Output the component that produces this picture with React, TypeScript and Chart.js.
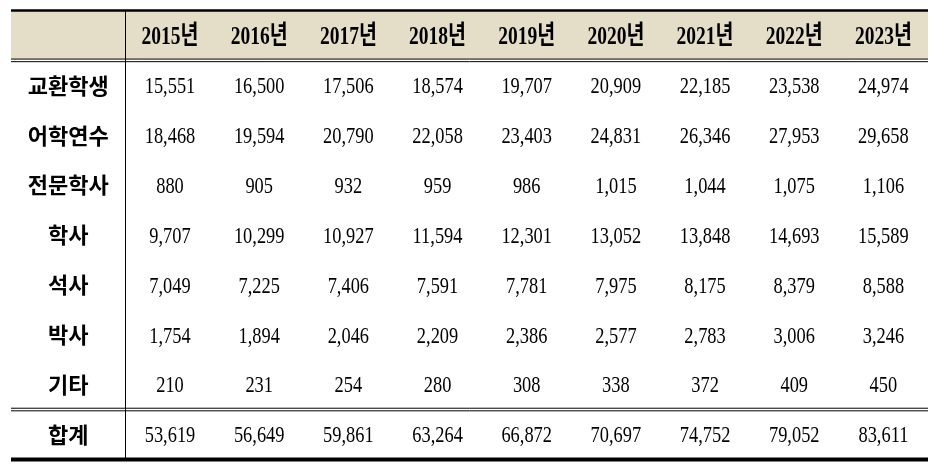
import React, { useEffect, useRef } from "react";
import { Chart, registerables } from "chart.js";

Chart.register(...registerables);

const rowLabels = ["교환학생", "어학연수", "전문학사", "학사", "석사", "박사", "기타", "합계"];
const years = ["2015년", "2016년", "2017년", "2018년", "2019년", "2020년", "2021년", "2022년", "2023년"];

const exchange = [15551, 16500, 17506, 18574, 19707, 20909, 22185, 23538, 24974];
const language = [18468, 19594, 20790, 22058, 23403, 24831, 26346, 27953, 29658];
const associate = [880, 905, 932, 959, 986, 1015, 1044, 1075, 1106];
const bachelor = [9707, 10299, 10927, 11594, 12301, 13052, 13848, 14693, 15589];
const master = [7049, 7225, 7406, 7591, 7781, 7975, 8175, 8379, 8588];
const doctor = [1754, 1894, 2046, 2209, 2386, 2577, 2783, 3006, 3246];
const other = [210, 231, 254, 280, 308, 338, 372, 409, 450];
const total = [53619, 56649, 59861, 63264, 66872, 70697, 74752, 79052, 83611];

const rowValues = [exchange, language, associate, bachelor, master, doctor, other, total];

const HEADER_BG = "#e4ddc8";
const LABEL_COL_UNITS = 1.283;

function drawText(
  ctx: CanvasRenderingContext2D,
  text: string,
  cx: number,
  cy: number,
  font: string,
  size: number,
  sx: number,
  baseFactor: number
) {
  ctx.save();
  ctx.font = font;
  ctx.fillStyle = "#000";
  ctx.textAlign = "center";
  ctx.textBaseline = "alphabetic";
  ctx.translate(cx, cy + size * baseFactor);
  ctx.scale(sx, 1);
  ctx.fillText(text, 0, 0);
  ctx.restore();
}

const tablePlugin = {
  id: "tablePlugin",
  afterDraw(chart: any) {
    const { ctx, chartArea, scales } = chart;
    const { left, right, top, bottom } = chartArea;
    const x = scales.x;
    const y = scales.y;
    ctx.save();

    // header background
    const hb = y.getPixelForValue(1);
    ctx.fillStyle = HEADER_BG;
    ctx.fillRect(left, top, right - left, hb - 1.3 - top);

    ctx.strokeStyle = "#000";
    // vertical separator
    const vx = Math.round(x.getPixelForValue(0)) + 0.5;
    ctx.lineWidth = 1;
    ctx.beginPath();
    ctx.moveTo(vx, top);
    ctx.lineTo(vx, bottom);
    ctx.stroke();

    // double lines
    const dbl = (v: number) => {
      const py = y.getPixelForValue(v);
      ctx.lineWidth = 1;
      ctx.beginPath();
      ctx.moveTo(left, py - 1.3);
      ctx.lineTo(right, py - 1.3);
      ctx.moveTo(left, py + 1.3);
      ctx.lineTo(right, py + 1.3);
      ctx.stroke();
    };
    dbl(1);
    dbl(8);

    // top and bottom borders
    ctx.lineWidth = 2.5;
    ctx.beginPath();
    ctx.moveTo(left, top);
    ctx.lineTo(right, top);
    ctx.stroke();
    ctx.lineWidth = 4;
    ctx.beginPath();
    ctx.moveTo(left, bottom);
    ctx.lineTo(right, bottom);
    ctx.stroke();

    // header years
    const headY = y.getPixelForValue(0.5);
    years.forEach((yr, i) => {
      drawText(ctx, yr, x.getPixelForValue(i + 0.5), headY,
        "bold 26px 'Liberation Serif', 'Noto Sans CJK KR'", 26, 0.75, 0.34);
    });

    // row labels
    const labelX = x.getPixelForValue(-LABEL_COL_UNITS / 2);
    rowLabels.forEach((lab, r) => {
      drawText(ctx, lab, labelX, y.getPixelForValue(r + 1.5),
        "bold 22px 'Noto Sans CJK KR'", 22, 1, 0.38);
    });

    // cells from dataset elements
    chart.data.datasets.forEach((ds: any, di: number) => {
      const meta = chart.getDatasetMeta(di);
      meta.data.forEach((el: any, i: number) => {
        const v = ds.values[i];
        drawText(ctx, v.toLocaleString("en-US"), el.x, el.y,
          "23px 'Liberation Serif'", 23, 0.8, 0.34);
      });
    });

    ctx.restore();
  },
};

export default function App() {
  const ref = useRef<HTMLCanvasElement | null>(null);
  useEffect(() => {
    if (!ref.current) return;
    const chart = new Chart(ref.current, {
      type: "scatter",
      data: {
        datasets: rowValues.map((vals, r) => ({
          label: rowLabels[r],
          values: vals,
          data: vals.map((v, i) => ({ x: i + 0.5, y: r + 1.5 })),
          pointRadius: 0,
          pointHoverRadius: 0,
        })) as any,
      },
      options: {
        animation: false,
        responsive: false,
        events: [],
        layout: { padding: { left: 11, right: 5, top: 10.5, bottom: 10.6 } },
        plugins: { legend: { display: false }, tooltip: { enabled: false } },
        scales: {
          x: { type: "linear", min: -LABEL_COL_UNITS, max: 9, display: false },
          y: { type: "linear", min: 0, max: 9, reverse: true, display: false },
        },
      },
      plugins: [tablePlugin],
    });
    return () => chart.destroy();
  }, []);
  return (
    <div style={{ position: "fixed", left: 0, top: 0, width: 933, height: 470, background: "#fff" }}>
      <canvas ref={ref} width={933} height={470} />
    </div>
  );
}
